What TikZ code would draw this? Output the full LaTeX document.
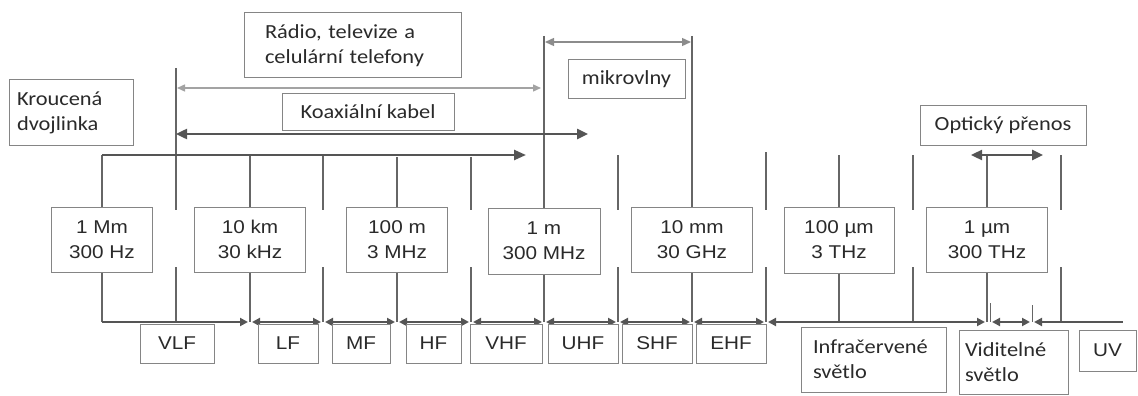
\documentclass[tikz,border=0pt]{standalone}
\usepackage{fontspec}
\usetikzlibrary{arrows.meta}
\newfontfamily\arialf[FakeStretch=1.12]{Liberation Sans}
\newfontfamily\calf[FakeStretch=1.12]{Carlito}
\definecolor{linegray}{HTML}{666666}
\definecolor{boxgray}{HTML}{858585}
\definecolor{txt}{HTML}{2A2A2A}
\definecolor{darkarrow}{HTML}{555555}
\definecolor{lightarrow}{HTML}{A3A3A3}
\definecolor{midarrow}{HTML}{8C8C8C}
\begin{document}
\begin{tikzpicture}[x=1pt,y=-1pt,
  vline/.style={draw=linegray,line width=1.2pt},
  thintick/.style={draw=linegray,line width=0.9pt},
  axseg/.style={draw=darkarrow,line width=2.6pt,shorten <=2pt,shorten >=2pt,
     {Triangle[length=8pt,width=8pt]}-{Triangle[length=8pt,width=8pt]}},
  bigarrow/.style={draw=darkarrow,line width=2.4pt},
  lightarr/.style={draw=lightarrow,line width=1.4pt,
     {Triangle[length=8pt,width=7pt]}-{Triangle[length=8pt,width=7pt]}},
  midarr/.style={draw=midarrow,line width=1.4pt,
     {Triangle[length=9pt,width=8pt]}-{Triangle[length=9pt,width=8pt]}},
  fbox/.style={draw=boxgray,fill=white,line width=1pt,inner sep=0pt,align=center,
     text=txt,font=\arialf\fontsize{18.5}{25}\selectfont},
  cbox/.style={draw=boxgray,fill=white,line width=1pt,inner ysep=0pt,align=left,
     text=txt,font=\calf\fontsize{20}{25}\selectfont},
]
\useasboundingbox (0,0) rectangle (1138,396);

% ---- coordinates: tops of vertical lines
\coordinate (u0) at (102,155);
\coordinate (u1) at (176,68);
\coordinate (u2) at (250,155);
\coordinate (u3) at (323,155);
\coordinate (u4) at (397,157);
\coordinate (u5) at (471,157);
\coordinate (u6) at (544,36);
\coordinate (u7) at (618,155);
\coordinate (u8) at (692,36);
\coordinate (u9) at (766,152);
\coordinate (u10) at (839,155);
\coordinate (u11) at (913,155);
\coordinate (u12) at (987,155);
\coordinate (u13) at (1061,155);
% gap ends of the lines between boxes
\foreach \i/\x in {1/176,3/323,5/471,7/618,9/766,11/913,13/1061}{
  \coordinate (ga\i) at (\x,210);
  \coordinate (gb\i) at (\x,267);
}
% axis points
\foreach \i/\x in {0/102,1/176,2/250,3/323,4/397,5/471,6/544,7/618,8/692,9/766,10/839,11/913,12/987,13/1061}{
  \coordinate (a\i) at (\x,322);
}
\coordinate (v1) at (990,322);
\coordinate (v2) at (1032,322);
\coordinate (v1t) at (990,303);
\coordinate (v2t) at (1032,305);
\coordinate (aend) at (1123,322);

% ---- frequency boxes
\node[fbox,minimum width=101pt,minimum height=65pt] (f0) at (102,239.5) {1 Mm\\300 Hz};
\node[fbox,minimum width=111pt,minimum height=65pt] (f2) at (250,239.5) {10 km\\30 kHz};
\node[fbox,minimum width=101pt,minimum height=65pt] (f4) at (397,239.5) {100 m\\3 MHz};
\node[fbox,minimum width=112pt,minimum height=66pt] (f6) at (544,241) {1 m\\300 MHz};
\node[fbox,minimum width=121pt,minimum height=65pt] (f8) at (692,239.5) {10 mm\\30 GHz};
\node[fbox,minimum width=110pt,minimum height=66pt] (f10) at (839,240) {100 µm\\3 THz};
\node[fbox,minimum width=121pt,minimum height=65pt] (f12) at (987,239.5) {1 µm\\300 THz};

% ---- vertical lines through boxes
\foreach \i in {0,2,4,6,8,10,12}{
  \draw[vline] (u\i) -- (f\i.north);
  \draw[vline] (f\i.south) -- (a\i);
}
% ---- vertical lines between boxes
\foreach \i in {1,3,5,7,9,11,13}{
  \draw[vline] (u\i) -- (ga\i);
  \draw[vline] (gb\i) -- (a\i);
}
\draw[thintick] (v1t) -- (v1);
\draw[thintick] (v2t) -- (v2);

% ---- axis
\draw[bigarrow,line width=2.6pt,-{Triangle[length=8pt,width=8pt]},shorten >=2pt] (a0) -- (a2);
\draw[axseg] (a2) -- (a3);
\draw[axseg] (a3) -- (a4);
\draw[axseg] (a4) -- (a5);
\draw[axseg] (a5) -- (a6);
\draw[axseg] (a6) -- (a7);
\draw[axseg] (a7) -- (a8);
\draw[axseg] (a8) -- (a9);
\draw[axseg] (a9) -- (a12);
\draw[axseg] (v1) -- (v2);
\draw[axseg,-,shorten >=0pt,{Triangle[length=8pt,width=8pt]}-] (v2) -- (aend);

% ---- top arrows
\coordinate (r1) at (177,88);
\coordinate (r2) at (541,88);
\coordinate (k1) at (176,134);
\coordinate (k2) at (588,134);
\coordinate (kend) at (526,155);
\coordinate (m1) at (545,42);
\coordinate (m2) at (691,42);
\coordinate (o1) at (971,155);
\coordinate (o2) at (1043,155);
\draw[lightarr] (r1) -- (r2);
\draw[bigarrow,{Triangle[length=11pt,width=10pt]}-{Triangle[length=11pt,width=10pt]}] (k1) -- (k2);
\draw[bigarrow,-{Triangle[length=12pt,width=10pt]}] (u0) -- (kend);
\draw[midarr] (m1) -- (m2);
\draw[bigarrow,{Triangle[length=11pt,width=10pt]}-{Triangle[length=11pt,width=10pt]}] (o1) -- (o2);

% ---- top label boxes
\node[cbox,minimum width=124pt,minimum height=65pt,inner xsep=8pt,text width=108pt] (kr) at (71,112.5) {Kroucená\\dvojlinka};
\node[cbox,minimum width=217pt,minimum height=65pt,inner xsep=21pt,text width=175pt] (rad) at (352.5,45.5) {Rádio, televize a\\celulární telefony};
\node[cbox,align=center,minimum width=172pt,minimum height=37pt,inner xsep=0pt] (kox) at (368,111.5) {Koaxiální kabel};
\node[cbox,align=center,minimum width=117pt,minimum height=38pt,inner xsep=0pt] (mik) at (626.5,79) {mikrovlny};
\node[cbox,align=center,minimum width=166pt,minimum height=40pt,inner xsep=0pt] (opt) at (1003,125) {Optický přenos};

% ---- band boxes
\node[fbox,minimum width=74pt,minimum height=39pt] (vlf) at (177,343.5) {VLF};
\node[fbox,minimum width=60pt,minimum height=39pt] (lf) at (288,343.5) {LF};
\node[fbox,minimum width=58pt,minimum height=39pt] (mf) at (361,343.5) {MF};
\node[fbox,minimum width=55pt,minimum height=39pt] (hf) at (433.5,343.5) {HF};
\node[fbox,minimum width=72pt,minimum height=39pt] (vhf) at (506,343.5) {VHF};
\node[fbox,minimum width=70pt,minimum height=39pt] (uhf) at (583,343.5) {UHF};
\node[fbox,minimum width=70pt,minimum height=39pt] (shf) at (657,343.5) {SHF};
\node[fbox,minimum width=70pt,minimum height=39pt] (ehf) at (731,343.5) {EHF};
\node[cbox,minimum width=145pt,minimum height=65pt,inner xsep=12pt,text width=121pt] (ir) at (873.5,359.5) {Infračervené\\světlo};
\node[cbox,minimum width=109pt,minimum height=64pt,inner xsep=6pt,text width=97pt] (vis) at (1013.5,362) {Viditelné\\světlo};
\node[fbox,minimum width=57pt,minimum height=41pt] (uv) at (1107.5,350.5) {UV};
\end{tikzpicture}
\end{document}
